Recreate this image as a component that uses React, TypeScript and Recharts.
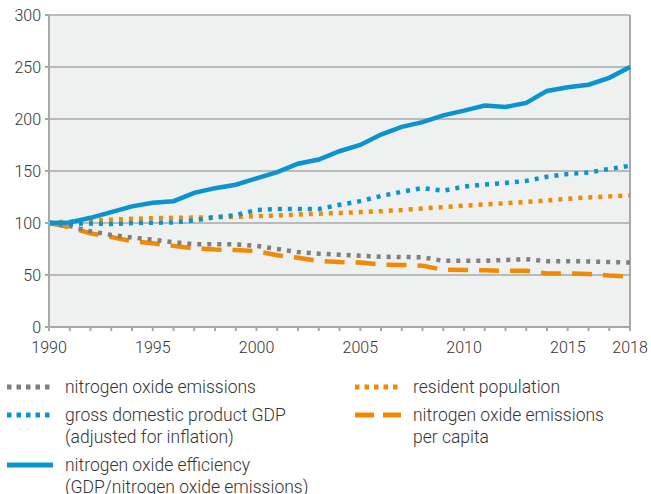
import React from 'react';
import { LineChart, Line, XAxis, YAxis, CartesianGrid, ReferenceLine } from 'recharts';

const years = [
  1990, 1991, 1992, 1993, 1994, 1995, 1996, 1997, 1998, 1999,
  2000, 2001, 2002, 2003, 2004, 2005, 2006, 2007, 2008, 2009,
  2010, 2011, 2012, 2013, 2014, 2015, 2016, 2017, 2018,
];

const noxEmissions = [
  100, 97, 92, 88.5, 86, 84, 81.5, 79.6, 79.6, 79.5,
  78, 75, 72, 70.5, 69.5, 68.5, 67.5, 67.3, 67.1, 63.6,
  63.6, 63.6, 64.5, 65.2, 63.3, 63.3, 63, 62.5, 62,
];

const gdp = [
  100, 99.5, 99.5, 99, 100, 100.3, 100.5, 102.5, 105.5, 107.5,
  112.5, 113.5, 113.5, 113.5, 117.5, 121, 126, 130, 133.6, 131,
  135, 137, 138.5, 140.5, 144.5, 147, 148.5, 152, 155,
];

const efficiency = [
  100, 100.5, 105, 110.5, 116, 119.5, 121, 129, 133.5, 136.8,
  143, 149, 157, 161, 169, 175, 185, 192.5, 197, 203.5,
  208, 213, 211.5, 215.5, 227, 230.5, 233, 239.6, 250,
];

const population = [
  100, 101.3, 102.4, 103.2, 104, 104.6, 105, 105.2, 105.5, 106,
  106.6, 107.3, 108.2, 109, 109.7, 110.5, 111.3, 112.4, 114, 115.3,
  116.6, 117.9, 119, 120.2, 121.6, 123.3, 124.6, 125.6, 126.5,
];

const perCapita = [
  100, 96, 90, 86.5, 82.5, 80.5, 78, 75.5, 74.5, 74,
  73, 69, 66.5, 63.5, 62.5, 62, 60, 59.7, 59, 55,
  54.9, 54.5, 54, 54, 51.5, 51.5, 51, 49.5, 48.5,
];

const yTicks = [0, 50, 100, 150, 200, 250, 300];
const labelledYears = [1990, 1995, 2000, 2005, 2010, 2015, 2018];

const data = years.map((year, i) => ({
  year,
  nox: noxEmissions[i],
  gdp: gdp[i],
  efficiency: efficiency[i],
  population: population[i],
  perCapita: perCapita[i],
}));

const BLUE = '#0a93d1';
const ORANGE = '#f18a00';
const GRAY = '#7f7f7f';
const AXIS = '#a8a8a8';
const TEXT = '#333333';
const FONT = 'Roboto, "Noto Sans", sans-serif';

const legendItems = [
  { label: ['nitrogen oxide emissions'], color: GRAY, dash: '4.5 5', left: 7, top: 376 },
  { label: ['resident population'], color: ORANGE, dash: '4.5 5', left: 355, top: 376 },
  { label: ['gross domestic product GDP', '(adjusted for inflation)'], color: BLUE, dash: '4.5 5', left: 7, top: 404 },
  { label: ['nitrogen oxide emissions', 'per capita'], color: ORANGE, dash: '19 9', left: 355, top: 404 },
  { label: ['nitrogen oxide efficiency', '(GDP/nitrogen oxide emissions)'], color: BLUE, dash: undefined, left: 7, top: 454 },
];

export default function App() {
  return (
    <div
      style={{
        position: 'absolute',
        left: 0,
        top: 0,
        width: 651,
        height: 494,
        overflow: 'hidden',
        background: '#fff',
        fontFamily: FONT,
      }}
    >
      <LineChart width={651} height={360} data={data} margin={{ top: 15, right: 21, left: 9, bottom: 3 }}>
        <CartesianGrid vertical={false} fill="#eff0f0" stroke={AXIS} strokeWidth={1.5} />
        <XAxis
          dataKey="year"
          type="number"
          domain={[1990, 2018]}
          ticks={years}
          interval={0}
          height={30}
          tickSize={4}
          tickMargin={11}
          stroke={AXIS}
          strokeWidth={2}
          tick={{ fill: TEXT, fontSize: 16, fontFamily: FONT, fontWeight: 300 }}
          tickFormatter={(v: number) => (labelledYears.includes(v) ? String(v) : '')}
        />
        <YAxis
          domain={[0, 300]}
          ticks={yTicks}
          width={40}
          tickSize={4}
          tickMargin={4}
          stroke={AXIS}
          strokeWidth={2}
          tick={{ fill: TEXT, fontSize: 16, fontFamily: FONT, fontWeight: 300 }}
        />
        <ReferenceLine x={2018} stroke={AXIS} strokeWidth={2} />
        <Line dataKey="perCapita" stroke={ORANGE} strokeWidth={4.5} strokeDasharray="20 11" dot={false} isAnimationActive={false} />
        <Line dataKey="population" stroke={ORANGE} strokeWidth={4.5} strokeDasharray="4 6" dot={false} isAnimationActive={false} />
        <Line dataKey="nox" stroke={GRAY} strokeWidth={4.5} strokeDasharray="4 6" dot={false} isAnimationActive={false} />
        <Line dataKey="gdp" stroke={BLUE} strokeWidth={4.5} strokeDasharray="4 6" dot={false} isAnimationActive={false} />
        <Line dataKey="efficiency" stroke={BLUE} strokeWidth={4.5} dot={false} isAnimationActive={false} />
      </LineChart>
      {legendItems.map((item) => (
        <div
          key={item.label[0] + item.left}
          style={{ position: 'absolute', left: item.left, top: item.top, display: 'flex', alignItems: 'flex-start' }}
        >
          <svg width={47} height={22} style={{ flex: 'none' }}>
            <line x1={0} y1={11} x2={46} y2={11} stroke={item.color} strokeWidth={5} strokeDasharray={item.dash} />
          </svg>
          <div
            style={{
              marginLeft: 11,
              color: TEXT,
              fontSize: 17.5,
              lineHeight: '22.3px',
              fontWeight: 300,
              whiteSpace: 'nowrap',
            }}
          >
            {item.label.map((l) => (
              <div key={l}>{l}</div>
            ))}
          </div>
        </div>
      ))}
    </div>
  );
}
